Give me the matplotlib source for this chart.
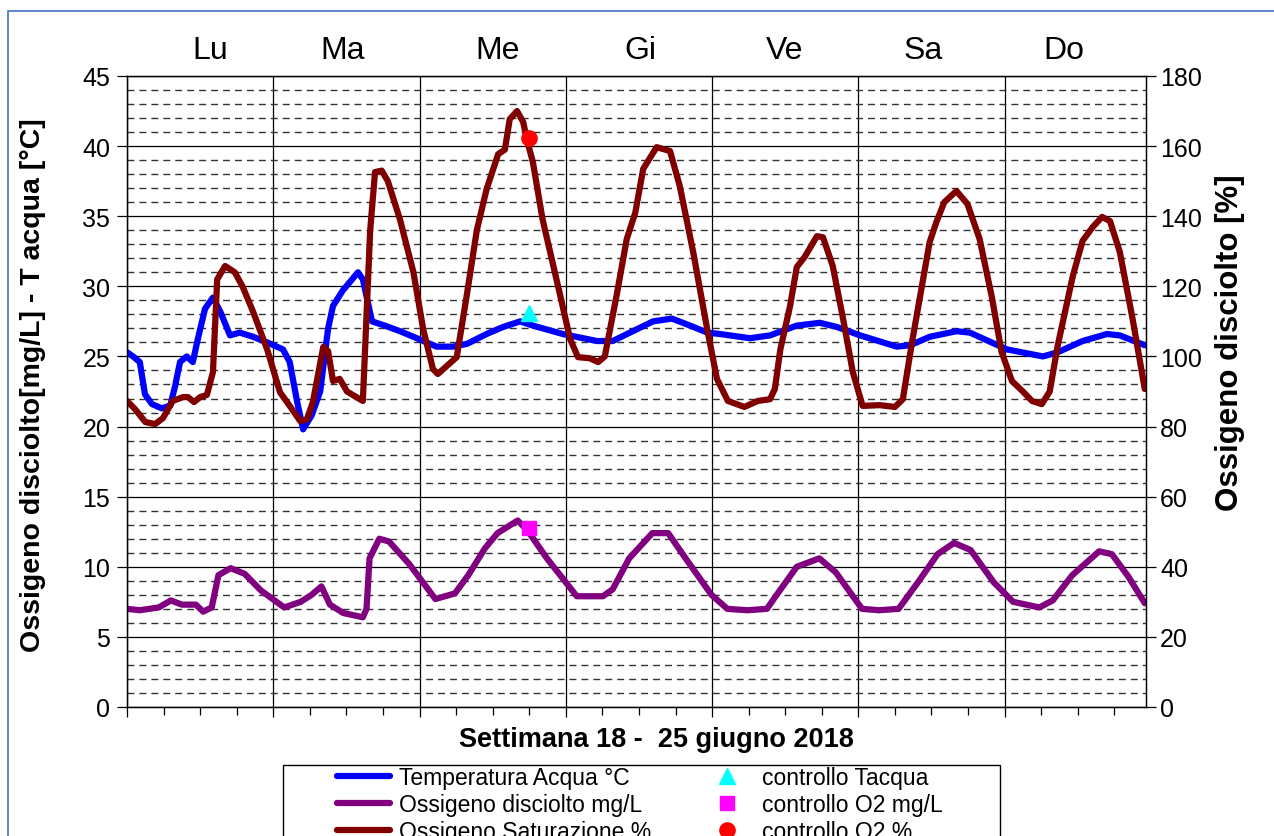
#@-----------------------------
#@   Ossigeno disciolto e temperatura acqua
#@   settimana 18 - 25 giugno 2018
#@-----------------------------

import matplotlib.pyplot as plt
from matplotlib.patches import Rectangle
from matplotlib.ticker import MultipleLocator
from matplotlib.transforms import blended_transform_factory

plt.rcParams['font.family'] = ['Liberation Sans', 'DejaVu Sans']

# ====== 1. dati (ore dall'inizio della settimana) ======
ore_temp = [0, 1.0, 2.1, 2.95, 4.1, 5.7, 7.1, 7.9, 8.7, 9.8,
            10.8, 11.6, 12.8, 14.1, 15.3, 16.9, 18.5, 20.7, 23.0, 25.6,
            26.7, 27.9, 28.9, 30.3, 31.7, 33.0, 33.8, 35.4, 37.9, 38.7,
            40.2, 42.3, 44.8, 48.1, 50.8, 53.5, 55.8, 59.0, 61.7, 64.5,
            66.6, 71.5, 77.1, 79.7, 83.0, 86.3, 89.4, 92.4, 95.2, 97.3,
            102.2, 105.5, 109.9, 113.7, 116.5, 120.3, 126.3, 128.5, 131.7, 136.1,
            138.3, 144.4, 150.3, 152.7, 156.8, 160.8, 162.9, 167.0]
temp_acqua = [25.3, 25.0, 24.6, 22.3, 21.6, 21.3, 21.5, 22.9, 24.6, 25.0,
              24.6, 26.2, 28.4, 29.2, 28.2, 26.5, 26.7, 26.4, 26.0, 25.5,
              24.6, 21.8, 19.8, 20.8, 22.5, 27.0, 28.6, 29.7, 31.0, 30.5,
              27.5, 27.2, 26.8, 26.2, 25.7, 25.7, 25.9, 26.6, 27.1, 27.5,
              27.2, 26.6, 26.1, 26.1, 26.8, 27.5, 27.7, 27.2, 26.7, 26.6,
              26.3, 26.5, 27.2, 27.4, 27.1, 26.5, 25.7, 25.8, 26.4, 26.8,
              26.7, 25.5, 25.0, 25.3, 26.1, 26.6, 26.5, 25.8]

ore_o2 = [0, 2.1, 5.2, 7.2, 9.0, 11.3, 12.5, 13.9, 15.0, 17.0,
          19.3, 22.0, 25.8, 28.5, 30.3, 31.9, 33.3, 35.5, 38.7, 39.3,
          39.8, 41.4, 43.0, 46.3, 50.6, 53.8, 56.0, 58.7, 60.8, 61.9,
          64.1, 65.7, 68.9, 73.8, 78.1, 79.7, 82.4, 86.2, 88.8, 91.5,
          95.9, 98.5, 101.8, 105.0, 106.6, 109.9, 113.6, 116.3, 120.6, 123.4,
          126.6, 129.8, 133.0, 135.7, 138.4, 142.2, 145.4, 149.7, 151.9, 155.1,
          159.5, 161.6, 164.3, 167.0]
o2_mgl = [7.0, 6.9, 7.1, 7.6, 7.3, 7.3, 6.8, 7.1, 9.4, 9.9,
          9.5, 8.3, 7.1, 7.5, 8.0, 8.6, 7.3, 6.7, 6.4, 7.0,
          10.6, 12.0, 11.8, 10.2, 7.7, 8.1, 9.4, 11.3, 12.4, 12.7,
          13.3, 12.6, 10.6, 7.9, 7.9, 8.4, 10.6, 12.4, 12.4, 10.7,
          8.0, 7.0, 6.9, 7.0, 8.0, 10.0, 10.6, 9.6, 7.0, 6.9,
          7.0, 8.9, 10.9, 11.7, 11.2, 8.9, 7.5, 7.1, 7.6, 9.4,
          11.1, 10.9, 9.3, 7.4]

ore_sat = [0, 1.3, 3.0, 4.6, 5.9, 7.5, 9.2, 10.0, 11.0, 12.0,
           13.1, 14.1, 14.8, 16.1, 17.7, 19.0, 20.7, 23.0, 25.1, 26.7,
           28.4, 29.5, 30.5, 32.2, 33.0, 33.8, 34.9, 36.1, 38.7, 39.9,
           40.7, 41.8, 42.8, 44.8, 47.0, 48.6, 50.2, 51.0, 54.1, 55.8,
           57.4, 59.0, 60.9, 62.0, 62.8, 64.0, 65.0, 65.6, 66.6, 68.2,
           71.0, 72.7, 74.0, 75.9, 77.3, 78.4, 80.4, 82.0, 83.4, 84.7,
           86.9, 89.1, 90.7, 92.9, 95.2, 96.8, 98.6, 101.3, 103.5, 105.5,
           106.3, 107.2, 108.8, 109.9, 111.2, 113.2, 114.2, 115.8, 117.5, 119.1,
           120.7, 123.5, 126.0, 127.3, 128.9, 131.7, 132.8, 134.1, 136.1, 137.9,
           139.9, 141.9, 143.5, 145.2, 147.0, 148.5, 150.1, 151.4, 152.7, 155.2,
           156.8, 158.5, 160.0, 161.3, 162.9, 165.0, 167.0]
o2_sat = [87.3, 85.0, 81.3, 80.7, 82.4, 87.3, 88.4, 88.4, 87.0, 88.4,
          89.0, 95.5, 122.0, 125.8, 124.0, 119.8, 112.7, 102.0, 89.8, 85.9,
          81.6, 82.0, 87.0, 102.7, 101.5, 93.0, 93.6, 90.0, 87.3, 136.0,
          152.6, 153.0, 150.0, 139.0, 124.0, 107.8, 96.4, 95.0, 99.8, 118.0,
          136.0, 147.7, 157.7, 159.0, 167.7, 170.0, 166.9, 162.0, 155.4, 139.0,
          118.0, 105.0, 99.8, 99.5, 98.4, 100.0, 118.0, 133.5, 141.0, 153.5,
          159.7, 158.6, 148.6, 129.8, 107.8, 93.6, 87.3, 85.6, 87.3, 87.8,
          90.7, 102.0, 114.4, 125.5, 128.4, 134.3, 134.0, 125.8, 110.7, 95.5,
          85.9, 86.1, 85.6, 87.8, 105.0, 132.6, 138.3, 144.0, 147.2, 143.5,
          133.5, 117.0, 101.3, 93.0, 90.0, 87.3, 86.4, 90.0, 103.0, 123.0,
          133.0, 137.0, 139.8, 138.6, 129.8, 110.7, 90.7]

# controlli puntuali
ora_controllo = 65.9
controllo_tacqua = 28.1
controllo_o2_mgl = 12.8
controllo_o2_sat = 162.3

giorni = ['Lu', 'Ma', 'Me', 'Gi', 'Ve', 'Sa', 'Do']
giorni_pos = [13.6, 35.4, 60.8, 84.3, 107.9, 130.7, 153.7]   # posizione etichette (ore)

# ====== 2. figura ======
fig = plt.figure(figsize=(12.74, 8.37), dpi=100)
W, H = 1274, 837
ax = fig.add_axes([127 / W, 1 - 708 / H, (1146 - 127) / W, (708 - 77) / H])
ax2 = ax.twinx()

# bordo esterno dell'area grafico
fig.patches.append(Rectangle((8 / W, -0.2), 1.5, 1.2 - 12 / H, transform=fig.transFigure,
                             fill=False, edgecolor='#4472C4', linewidth=1.2))

ax.set_xlim(0, 167.2)
ax.set_ylim(0, 45)
ax2.set_ylim(0, 180)

ax.yaxis.set_major_locator(MultipleLocator(5))
ax.yaxis.set_minor_locator(MultipleLocator(1))
ax.xaxis.set_major_locator(MultipleLocator(24))
ax.xaxis.set_minor_locator(MultipleLocator(6))
ax2.yaxis.set_major_locator(MultipleLocator(20))

ax.grid(which='major', axis='both', color='black', linewidth=0.9)
ax.grid(which='minor', axis='y', color='#333333', linewidth=1.0, linestyle=(0, (5, 3.6)))
ax.set_axisbelow(True)

ax.tick_params(axis='y', which='major', direction='out', length=7, width=0.9,
               labelsize=18, pad=5)
ax.tick_params(axis='y', which='minor', length=0)
ax.tick_params(axis='x', which='major', direction='out', length=7, width=0.9, labelbottom=False)
ax.tick_params(axis='x', which='minor', direction='out', length=6, width=0.9)
ax2.tick_params(axis='y', direction='out', length=7, width=0.9, labelsize=18, pad=3)

for a in (ax, ax2):
    for s in a.spines.values():
        s.set_linewidth(0.9)
        s.set_color('black')

# ====== 3. serie ======
lw = 4.5
l_t, = ax.plot(ore_temp, temp_acqua, color='#0000FF', linewidth=lw,
               solid_joinstyle='round', solid_capstyle='round', label='Temperatura Acqua °C')
l_o2, = ax.plot(ore_o2, o2_mgl, color='#800080', linewidth=lw,
                solid_joinstyle='round', solid_capstyle='round', label='Ossigeno disciolto mg/L')
l_sat, = ax2.plot(ore_sat, o2_sat, color='#800000', linewidth=lw,
                  solid_joinstyle='round', solid_capstyle='round', label='Ossigeno Saturazione %')

m_t, = ax2.plot([ora_controllo], [controllo_tacqua * 4], linestyle='none', marker='^',
                color='#00FFFF', markersize=11, label='controllo Tacqua')
m_o2, = ax2.plot([ora_controllo], [controllo_o2_mgl * 4], linestyle='none', marker='s',
                 color='#FF00FF', markersize=10, label='controllo O2 mg/L')
m_sat, = ax2.plot([ora_controllo], [controllo_o2_sat], linestyle='none', marker='o',
                  color='#FF0000', markersize=11, label='controllo O2 %')

# ====== 4. testi ======
trans_giorni = blended_transform_factory(ax.transData, fig.transFigure)
for g, x in zip(giorni, giorni_pos):
    ax.text(x, 1 - 51 / H, g, transform=trans_giorni, ha='center', va='center', fontsize=23)

fig.text(656 / W, 1 - 740 / H, 'Settimana 18 -  25 giugno 2018', ha='center', va='center',
         fontsize=19.5, fontweight='bold')
fig.text(33 / W, 1 - 385 / H, 'Ossigeno disciolto[mg/L] - T acqua [°C]', ha='center', va='center',
         rotation=90, fontsize=20.5, fontweight='bold')
fig.text(1230 / W, 1 - 343 / H, 'Ossigeno disciolto [%]', ha='center', va='center',
         rotation=90, fontsize=22.5, fontweight='bold')

# ====== 5. legenda (tagliata in basso come nell'originale) ======
handles = [l_t, l_o2, l_sat, m_t, m_o2, m_sat]
fig.legend(handles, [h.get_label() for h in handles], ncol=2, loc='upper left',
           bbox_to_anchor=(337 / W, 1 - 767 / H), bbox_transform=fig.transFigure,
           frameon=False, fontsize=16.5, handlelength=2.3, handletextpad=0.4,
           columnspacing=2.15, labelspacing=0.17, borderaxespad=0, borderpad=0, numpoints=1)
fig.patches.append(Rectangle((283 / W, -0.2), (1000 - 283) / W, 0.2 + 1 - 766 / H,
                             transform=fig.transFigure, fill=False, edgecolor='black', linewidth=1))

fig.savefig('out.png', dpi=100)
